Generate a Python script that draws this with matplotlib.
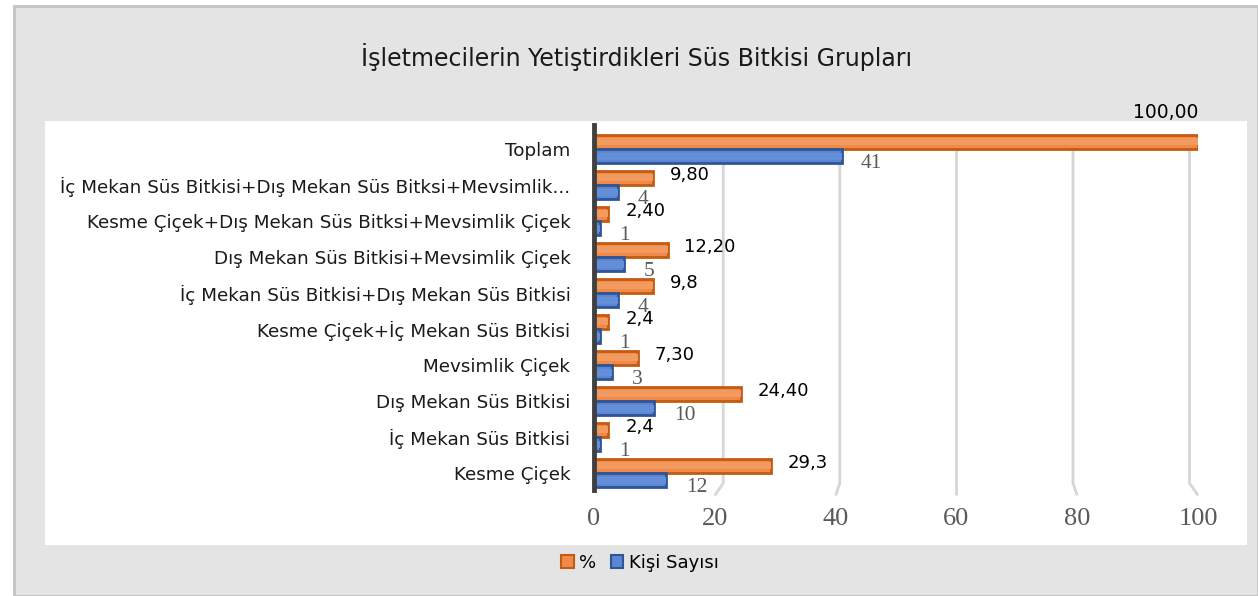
import matplotlib.pyplot as plt
from matplotlib.patches import Rectangle, Patch
import numpy as np

categories = [
    "Kesme Çiçek",
    "İç Mekan Süs Bitkisi",
    "Dış Mekan Süs Bitkisi",
    "Mevsimlik Çiçek",
    "Kesme Çiçek+İç Mekan Süs Bitkisi",
    "İç Mekan Süs Bitkisi+Dış Mekan Süs Bitkisi",
    "Dış Mekan Süs Bitkisi+Mevsimlik Çiçek",
    "Kesme Çiçek+Dış Mekan Süs Bitksi+Mevsimlik Çiçek",
    "İç Mekan Süs Bitkisi+Dış Mekan Süs Bitksi+Mevsimlik...",
    "Toplam",
]
percent = [29.3, 2.4, 24.4, 7.3, 2.4, 9.8, 12.2, 2.4, 9.8, 100.0]
percent_labels = ["29,3", "2,4", "24,40", "7,30", "2,4", "9,8", "12,20", "2,40", "9,80", "100,00"]
count = [12, 1, 10, 3, 1, 4, 5, 1, 4, 41]
xticks = [0, 20, 40, 60, 80, 100]

W, H = 1258, 596
fig = plt.figure(figsize=(W / 100, H / 100), dpi=100)
fig.patch.set_facecolor("white")

# grey chart area and white plot area
fig.patches.append(Rectangle((14 / W, 0), 1 - 14 / W, (H - 6) / H, transform=fig.transFigure,
                             facecolor="#e4e4e4", edgecolor="#c3c3c3", lw=2, zorder=-2))
fig.patches.append(Rectangle((45 / W, (H - 545) / H), 1202 / W, 424 / H, transform=fig.transFigure,
                             facecolor="white", edgecolor="none", zorder=-1))

ax = fig.add_axes([594 / W, (H - 490) / H, 604 / W, 365 / H])
ax.set_facecolor("none")
ax.set_zorder(2)
ax.set_xlim(0, 100)
ax.set_ylim(-0.47, 9.67)

# back-wall gridlines with a little perspective, like the 3d excel chart
for t in xticks[1:]:
    xb = t + 0.035 * (60 - t)
    ax.plot([xb, xb, t], [9.4, -0.28, -0.62], color="#d6d6d6", lw=2,
            zorder=1, clip_on=False, solid_capstyle="butt")

y = np.arange(len(categories))
h = 0.38
orange, orange_edge = "#f08a4b", "#c55a11"
blue, blue_edge = "#5a86d4", "#2f5597"

ax.barh(y + 0.2, percent, height=h, color=orange, edgecolor=orange_edge, lw=2, zorder=3)
ax.barh(y - 0.2, count, height=h, color=blue, edgecolor=blue_edge, lw=2, zorder=3)
# soft lighter band for a bit of the bevel look
ax.barh(y + 0.2, percent, height=h * 0.5, color="#f39a60", lw=0, zorder=4)
ax.barh(y - 0.2, count, height=h * 0.5, color="#648fd8", lw=0, zorder=4)

for yi, v, lab in zip(y, percent, percent_labels):
    if v >= 90:
        ax.annotate(lab, (v, yi + 0.2), xytext=(0, 14), textcoords="offset points",
                    ha="right", va="bottom", fontsize=13.5, color="black")
    else:
        ax.annotate(lab, (v, yi + 0.2), xytext=(12, 2), textcoords="offset points",
                    ha="left", va="center", fontsize=13, color="black")

for yi, v in zip(y, count):
    ax.annotate(str(v), (v, yi - 0.2), xytext=(14, -5), textcoords="offset points",
                ha="left", va="center", fontsize=15.5, color="#595959",
                family="Liberation Serif")

ax.set_xticks(xticks)
ax.set_xticklabels([str(t) for t in xticks], family="Liberation Serif",
                   fontsize=19, color="#595959")
ax.set_yticks(y)
ax.set_yticklabels(categories, fontsize=13.2, color="#1a1a1a")
ax.tick_params(axis="both", length=0)
ax.tick_params(axis="x", pad=13)
ax.tick_params(axis="y", pad=17)

for s in ["top", "right", "bottom"]:
    ax.spines[s].set_visible(False)
ax.spines["left"].set_color("#404040")
ax.spines["left"].set_linewidth(3.5)
ax.spines["left"].set_zorder(5)

fig.text(637 / W, 1 - 57 / H, "İşletmecilerin Yetiştirdikleri Süs Bitkisi Grupları",
         ha="center", va="center", fontsize=17, color="#1a1a1a")

handles = [Patch(facecolor=orange, edgecolor=orange_edge, lw=1.5, label="%"),
           Patch(facecolor=blue, edgecolor=blue_edge, lw=1.5, label="Kişi Sayısı")]
fig.legend(handles=handles, loc="center", bbox_to_anchor=(640 / W, 1 - 563 / H), ncol=2,
           frameon=False, fontsize=13, handlelength=0.7, handleheight=0.7,
           handletextpad=0.3, columnspacing=0.8)

fig.savefig("out.png", dpi=100)
